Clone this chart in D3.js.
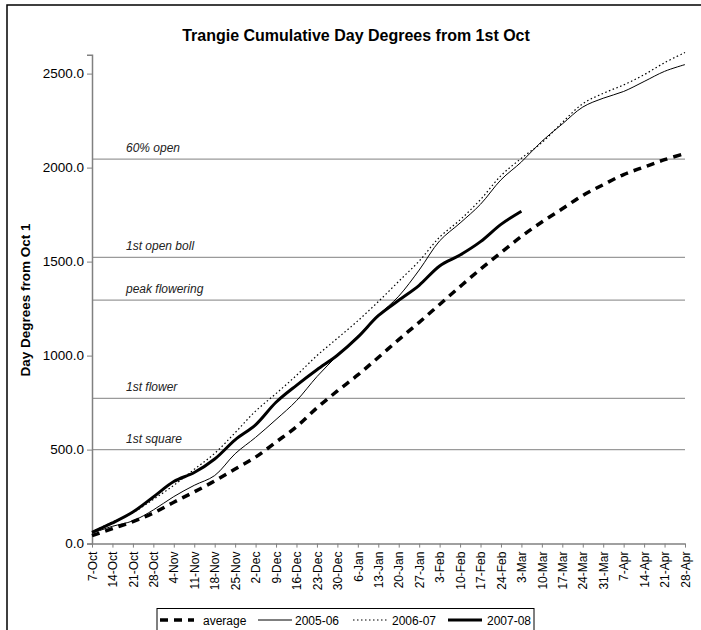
<!DOCTYPE html>
<html>
<head>
<meta charset="utf-8">
<script src="https://cdn.jsdelivr.net/npm/d3@7"></script>
<style>
  body { margin: 0; background: #fff; }
  text { font-family: Arial, "Liberation Sans", sans-serif; }
</style>
</head>
<body>
<div id="chart"></div>
<script>
const WIDTH = 701, HEIGHT = 630;
const MARGIN = { top: 54.8, right: 16, bottom: 86.4, left: 92 };
const PLOT_W = WIDTH - MARGIN.left - MARGIN.right, PLOT_H = HEIGHT - MARGIN.top - MARGIN.bottom;

// weekly category labels
const weeks = ["7-Oct","14-Oct","21-Oct","28-Oct","4-Nov","11-Nov","18-Nov","25-Nov","2-Dec","9-Dec",
  "16-Dec","23-Dec","30-Dec","6-Jan","13-Jan","20-Jan","27-Jan","3-Feb","10-Feb","17-Feb",
  "24-Feb","3-Mar","10-Mar","17-Mar","24-Mar","31-Mar","7-Apr","14-Apr","21-Apr","28-Apr"];

const average = [42, 80, 117, 163, 220, 275, 333, 397, 460, 540, 622, 722, 812, 897, 990,
  1085, 1177, 1272, 1367, 1460, 1548, 1634, 1711, 1781, 1852, 1909, 1963, 2003, 2042, 2075];
const s2005 = [55, 92, 121, 179, 250, 310, 362, 478, 565, 660, 760, 888, 1000, 1104, 1214,
  1316, 1455, 1610, 1705, 1805, 1935, 2030, 2140, 2232, 2322, 2369, 2405, 2458, 2512, 2548];
const s2006 = [62, 115, 165, 235, 310, 395, 480, 590, 705, 798, 895, 1000, 1092, 1185, 1287,
  1395, 1503, 1630, 1722, 1830, 1957, 2050, 2133, 2240, 2340, 2395, 2440, 2494, 2558, 2612];
const s2007 = [60, 110, 168, 248, 330, 378, 450, 552, 632, 752, 842, 925, 1002, 1098, 1212,
  1294, 1374, 1477, 1535, 1606, 1698, 1768];

const yTicks = [0, 500, 1000, 1500, 2000, 2500];
const stages = ["60% open", "1st open boll", "peak flowering", "1st flower", "1st square"];
const stageValues = [2045, 1523, 1295, 773, 500];

const seriesNames = ["average", "2005-06", "2006-07", "2007-08"];
const seriesData = [average, s2005, s2006, s2007];
const seriesStyle = [
  { width: 3.5, dash: "8,6" },
  { width: 1, dash: null },
  { width: 1.2, dash: "1.5,2.5" },
  { width: 3, dash: null }
];

const svg = d3.select("#chart").append("svg")
  .attr("width", WIDTH)
  .attr("height", HEIGHT);

// chart border (cropped at right / bottom in the picture)
svg.append("rect")
  .attr("x", 7).attr("y", 5)
  .attr("width", 720).attr("height", 660)
  .attr("fill", "none").attr("stroke", "#000").attr("stroke-width", 1.5);

svg.append("text")
  .attr("x", 356).attr("y", 41)
  .attr("text-anchor", "middle")
  .style("font-size", "16px").style("font-weight", "bold")
  .text("Trangie Cumulative Day Degrees from 1st Oct");

const g = svg.append("g").attr("transform", "translate(" + MARGIN.left + "," + MARGIN.top + ")");

let xScale = d3.scalePoint().domain(weeks).range([0, PLOT_W]);
let yScale = d3.scaleLinear().domain([0, 2600]).range([PLOT_H, 0]);

// stage reference lines
stageValues.forEach((v, i) => {
  g.append("line")
    .attr("x1", 0).attr("x2", PLOT_W)
    .attr("y1", yScale(v)).attr("y2", yScale(v))
    .attr("stroke", "#9a9a9a").attr("stroke-width", 1.2);
  g.append("text")
    .attr("x", 34).attr("y", yScale(v) - 7)
    .style("font-size", "12px").style("font-style", "italic")
    .attr("fill", "#222")
    .text(stages[i]);
});

// axes
const yAx = g.append("g")
  .call(d3.axisLeft(yScale).tickValues(yTicks).tickSize(5).tickFormat(d3.format(".1f")));
yAx.select(".domain").attr("stroke", "#808080").attr("stroke-width", 1.5);
yAx.selectAll(".tick line").attr("stroke", "#808080");
yAx.selectAll(".tick text").style("font-size", "13.5px").attr("fill", "#000").attr("x", -8);

const xAx = g.append("g")
  .attr("transform", "translate(0," + PLOT_H + ")")
  .call(d3.axisBottom(xScale).tickSize(4).tickSizeOuter(0));
xAx.select(".domain").attr("stroke", "#808080").attr("stroke-width", 1.5);
xAx.selectAll(".tick line").attr("stroke", "#808080");
xAx.selectAll(".tick text")
  .style("font-size", "12px").attr("fill", "#000")
  .attr("text-anchor", "end")
  .attr("transform", "rotate(-90)")
  .attr("x", -8).attr("y", 0).attr("dy", "0.35em");

svg.append("text")
  .attr("transform", "translate(30,300) rotate(-90)")
  .attr("text-anchor", "middle")
  .style("font-size", "13.5px").style("font-weight", "bold")
  .text("Day Degrees from Oct 1");

// series lines
const line = d3.line()
  .x((d, i) => xScale(weeks[i]))
  .y(d => yScale(d))
  .curve(d3.curveCatmullRom);

seriesData.forEach((data, k) => {
  g.append("path")
    .datum(data)
    .attr("d", line)
    .attr("fill", "none")
    .attr("stroke", "#000")
    .attr("stroke-width", seriesStyle[k].width)
    .attr("stroke-dasharray", seriesStyle[k].dash);
});

// legend
const legend = svg.append("g");
legend.append("rect")
  .attr("x", 157).attr("y", 608.5)
  .attr("width", 377).attr("height", 40)
  .attr("fill", "#fff").attr("stroke", "#000").attr("stroke-width", 1);
const legendX = [160, 258, 353, 448];
const legendTextX = [203, 295, 392, 487];
seriesNames.forEach((name, k) => {
  legend.append("line")
    .attr("x1", legendX[k]).attr("x2", legendX[k] + 34)
    .attr("y1", 620).attr("y2", 620)
    .attr("stroke", "#000")
    .attr("stroke-width", seriesStyle[k].width)
    .attr("stroke-dasharray", seriesStyle[k].dash);
  legend.append("text")
    .attr("x", legendTextX[k]).attr("y", 624.5)
    .style("font-size", "12px")
    .text(name);
});
</script>
</body>
</html>
